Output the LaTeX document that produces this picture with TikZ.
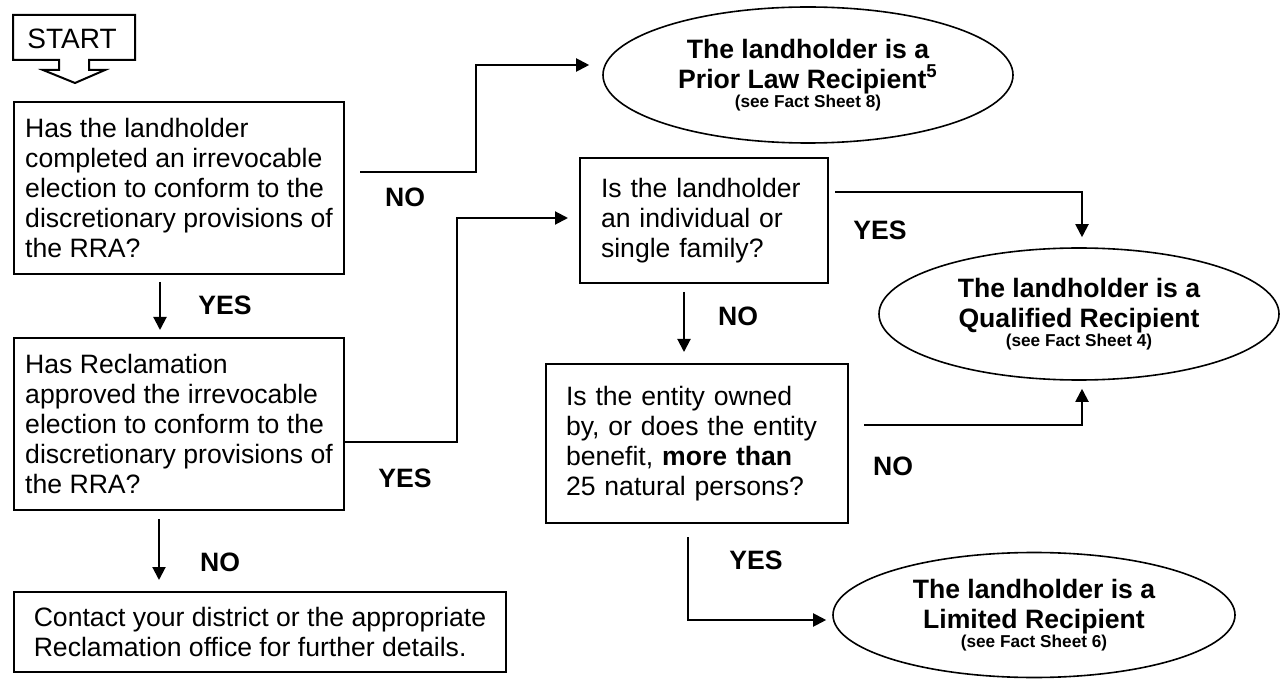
\documentclass[tikz,border=0pt]{standalone}
\usepackage{fontspec}
\setmainfont{Liberation Sans}
\usetikzlibrary{arrows.meta,shapes.geometric}
\newcommand{\factsheet}[1]{{\fontsize{8.6}{9}\selectfont(see Fact Sheet #1)}}

\begin{document}
\begin{tikzpicture}[x=0.5pt,y=-0.5pt,
        font=\fontsize{13.3}{15}\selectfont,
        question/.style={draw,line width=1pt,rectangle,anchor=north west,align=left,inner ysep=0pt},
        outcome/.style={draw,line width=0.8pt,ellipse,inner sep=0pt,align=center,font=\fontsize{13.3}{15}\selectfont\bfseries},
        answer/.style={font=\fontsize{13.3}{15}\selectfont\bfseries},
        flow/.style={line width=1pt,-{Triangle[length=6.5pt,width=6.5pt]}}]
    \useasboundingbox (0,0) rectangle (1280,679);

    % start marker
    \node (start) at (72,39) {\fontsize{14}{16}\selectfont START};
    \draw[line width=1pt] (59,60) -- (13,60) -- (13,15) -- (135,15) -- (135,60) -- (89,60)
        -- (89,70) -- (105,70) -- (75,83) -- (43,70) -- (59,70) -- cycle;

    \begin{scope}[every node/.style={question}]
        \node (elected) [minimum width=165pt,minimum height=86pt] at (13,101)
            {Has the landholder\\completed an irrevocable\\election to conform to the\\discretionary provisions of\\the RRA?};
        \node (approved) [minimum width=165pt,minimum height=86pt] at (13,337)
            {Has Reclamation\\approved the irrevocable\\election to conform to the\\discretionary provisions of\\the RRA?};
        \node (contact) [minimum width=246pt,minimum height=40pt] at (13,591)
            {Contact your district or the appropriate\\Reclamation office for further details.};
        \node (individual) [text width=103pt,inner xsep=10.5pt,minimum height=62.5pt] at (579,157)
            {Is the landholder\\an individual or\\single family?};
        \node (entity) [text width=131pt,inner xsep=10pt,minimum height=79.5pt] at (545,363)
            {Is the entity owned\\by, or does the entity\\benefit, \textbf{more than}\\25 natural persons?};
    \end{scope}

    \begin{scope}[every node/.style={outcome}]
        \node (prior) [minimum width=205pt,minimum height=68pt] at (808,75)
            {The landholder is a\\Prior Law Recipient\textsuperscript{5}\\[-5.5pt]\factsheet{8}};
        \node (qualified) [minimum width=200pt,minimum height=66pt] at (1079,314)
            {The landholder is a\\Qualified Recipient\\[-5.5pt]\factsheet{4}};
        \node (limited) [minimum width=201pt,minimum height=62.5pt] at (1034,615)
            {The landholder is a\\Limited Recipient\\[-5.5pt]\factsheet{6}};
    \end{scope}

    \begin{scope}[every node/.style={answer}]
        \node (no1) at (405,197) {NO};
        \node (yes1) at (225,305) {YES};
        \node (yes2) at (405,478) {YES};
        \node (no2) at (220,562) {NO};
        \node (yes3) at (880,230) {YES};
        \node (no3) at (738,316) {NO};
        \node (no4) at (893,466) {NO};
        \node (yes4) at (756,560) {YES};
    \end{scope}

    \draw[flow,shorten <=7.5pt,shorten >=6.5pt] (elected.east |- 0,172) -| (476,65) -- (prior.west |- 0,65);
    \draw[flow,shorten <=3.5pt,shorten >=3.5pt] (elected.south -| 160,0) -- (approved.north -| 160,0);
    \draw[flow,shorten >=5.5pt] (approved.east |- 0,442) -| (457,218) -- (individual.west |- 0,218);
    \draw[flow,shorten <=4pt,shorten >=5.5pt] (approved.south -| 159,0) -- (contact.north -| 159,0);
    \draw[flow,shorten <=3pt,shorten >=5pt] (individual.east |- 0,192) -| (qualified.north -| 1082,0);
    \draw[flow,shorten <=4pt,shorten >=5.5pt] (individual.south -| 684,0) -- (entity.north -| 684,0);
    \draw[flow,shorten <=7.5pt,shorten >=4pt] (entity.east |- 0,425) -| (qualified.south -| 1082,0);
    \draw[flow,shorten <=6.5pt,shorten >=3pt] (entity.south -| 688,0) |- (limited.west |- 0,620);
\end{tikzpicture}
\end{document}
